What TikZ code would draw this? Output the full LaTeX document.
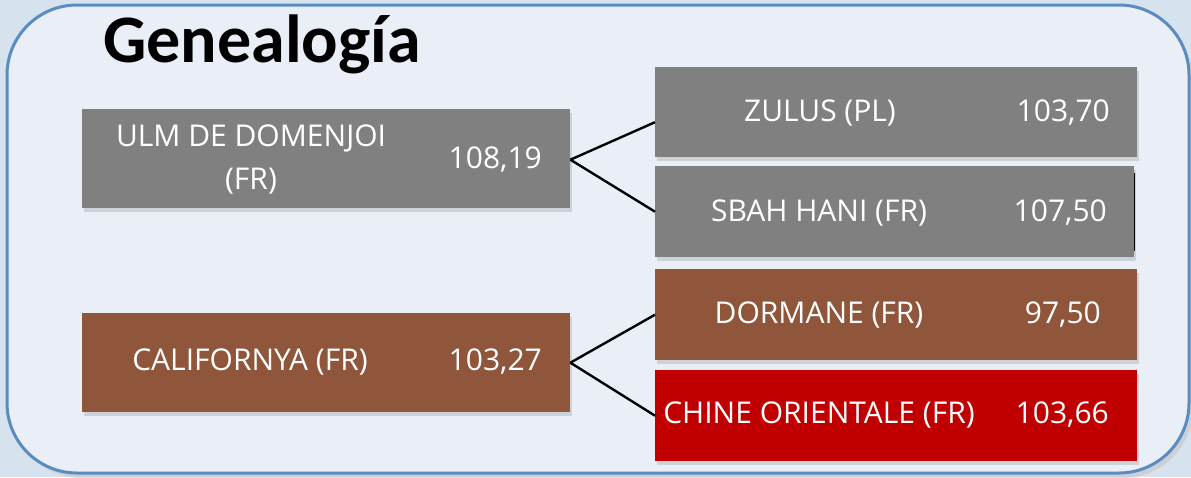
\documentclass[tikz,border=0pt]{standalone}
\usepackage{fontspec}
\setmainfont{Open Sans}
\newfontfamily\titlefont{Carlito}
\usetikzlibrary{shadows}
\definecolor{outerbg}{HTML}{D6E3EF}
\definecolor{innerbg}{HTML}{EAEFF7}
\definecolor{frameblue}{HTML}{5B8CC0}
\definecolor{boxgray}{HTML}{808080}
\definecolor{boxbrown}{HTML}{90563C}
\definecolor{boxred}{HTML}{C00000}
\tikzset{
  box/.style={rectangle, inner sep=0pt, anchor=north west, minimum width=#1,
    drop shadow={shadow xshift=2pt, shadow yshift=-4pt, opacity=0.18, fill=black!70}},
  lbl/.style={text=white, inner sep=0pt, font=\fontsize{30}{43}\selectfont, align=center},
  link/.style={draw=black, line width=2.4pt}
}
\begin{document}
\begin{tikzpicture}[x=1pt,y=-1pt]
\useasboundingbox (0,0) rectangle (1191,477);
\fill[outerbg] (0,0) rectangle (1191,477);
% frame shadow
\fill[black!25, opacity=0.5, rounded corners=70pt] (12,10) rectangle (1193,478);
\draw[frameblue, line width=3pt, fill=innerbg, rounded corners=70pt] (7,5) rectangle (1189,473);
\node[anchor=base west, inner sep=0pt, font=\titlefont\bfseries\fontsize{68}{70}\selectfont] (title) at (103,62) {Genealogía};
% boxes
\node[box=488pt, minimum height=99pt, fill=boxgray] (ulm) at (82,109) {};
\node[box=482pt, minimum height=90pt, fill=boxgray] (zul) at (655,67) {};
\node[box=479pt, minimum height=91pt, fill=boxgray] (sbah) at (655,166) {};
\draw[black, line width=1pt] (1134.5,173) -- (1134.5,251);
\node[box=488pt, minimum height=99pt, fill=boxbrown] (cal) at (82,313) {};
\node[box=482pt, minimum height=91pt, fill=boxbrown] (dor) at (655,269) {};
\node[box=482pt, minimum height=91pt, fill=boxred] (chi) at (655,370) {};
% labels
\node[lbl] (ulmn) at (251,159) {ULM DE DOMENJOI\\(FR)};
\node[lbl, anchor=east] (ulmv) at (542,160) {108,19};
\node[lbl] (zuln) at (820,113) {ZULUS (PL)};
\node[lbl, anchor=east] (zulv) at (1110,113) {103,70};
\node[lbl] (sbahn) at (819,213) {SBAH HANI (FR)};
\node[lbl, anchor=east] (sbahv) at (1107,213) {107,50};
\node[lbl] (caln) at (250,362) {CALIFORNYA (FR)};
\node[lbl, anchor=east] (calv) at (542,362) {103,27};
\node[lbl] (dorn) at (819,315) {DORMANE (FR)};
\node[lbl, anchor=east] (dorv) at (1101,315) {97,50};
\node[lbl] (chin) at (819,415) {CHINE ORIENTALE (FR)};
\node[lbl, anchor=east] (chiv) at (1109,415) {103,66};
% connectors
\coordinate (ulmr) at ([yshift=-1pt]ulm.east);
\draw[link] (ulmr) -- ([yshift=-10pt]zul.west);
\draw[link] (ulmr) -- (sbah.west);
\draw[link] (cal.east) -- (dor.west);
\draw[link] (cal.east) -- (chi.west);
\end{tikzpicture}
\end{document}
